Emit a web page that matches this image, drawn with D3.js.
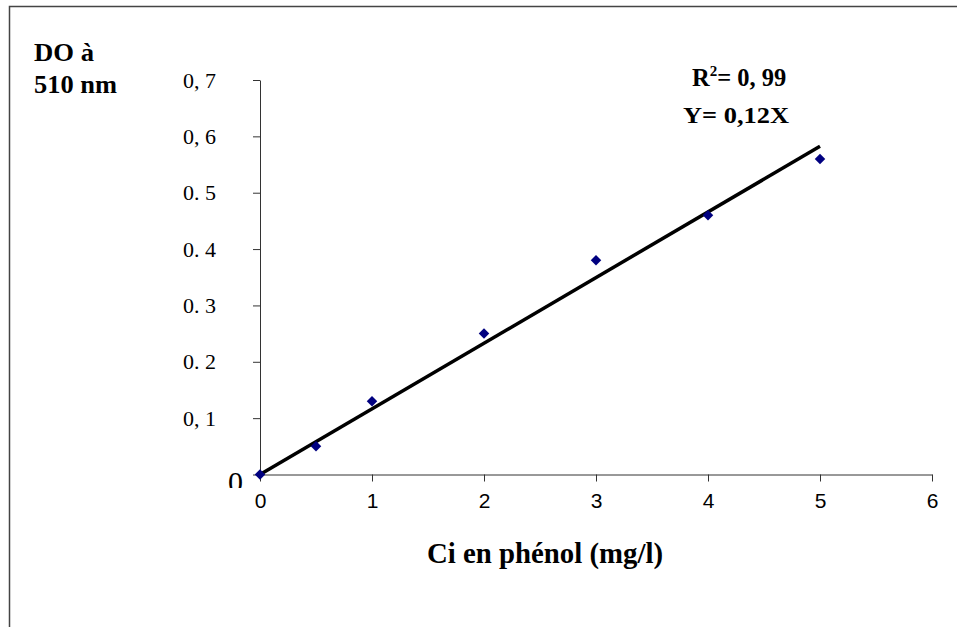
<!DOCTYPE html>
<html><head><meta charset="utf-8">
<script src="https://cdn.jsdelivr.net/npm/d3@7"></script>
<style>html,body{margin:0;padding:0;background:#fff;overflow:hidden}</style>
</head><body>
<svg id="c" width="957" height="627"></svg>
<script>
// ---- data ----
const concentrations = [0, 0.5, 1, 2, 3, 4, 5];
const absorbance = [0, 0.05, 0.13, 0.25, 0.38, 0.46, 0.56];
const xTicks = [0, 1, 2, 3, 4, 5, 6];
const yTicks = [0, 0.1, 0.2, 0.3, 0.4, 0.5, 0.6, 0.7];
const yTickLabels = ["0", "0, 1", "0. 2", "0. 3", "0. 4", "0. 5", "0, 6", "0, 7"];
const yTitleLines = ["DO à", "510 nm"];
const xTitle = "Ci en phénol (mg/l)";
const r2Text = ["R", "2", "= 0, 99"];
const eqText = "Y= 0,12X";
const trendEnd = 5;

const svg = d3.select("#c");
const serif = "'Liberation Serif','Times New Roman',serif";
const sans = "'Liberation Sans',Arial,sans-serif";

// frame
svg.append("rect").attr("x", 9.5).attr("y", 6.5).attr("width", 1000).attr("height", 700)
  .attr("fill", "none").attr("stroke", "#444").attr("stroke-width", 1.5);

const x = d3.scaleLinear().domain([0, 6]).range([260, 932]);
const y = d3.scaleLinear().domain([0, 0.7]).range([474.5, 80]);

// x axis
const gx = svg.append("g").attr("transform", `translate(0,${y(0)})`)
  .call(d3.axisBottom(x).tickValues(xTicks).tickSize(7).tickSizeOuter(0).tickPadding(12).tickFormat(d3.format("d")));
gx.select(".domain").attr("stroke", "#333");
gx.selectAll(".tick line").attr("stroke", "#333");
gx.selectAll(".tick text").attr("font-family", sans).attr("font-size", 21).attr("fill", "#000");

// y axis
const gy = svg.append("g").attr("transform", `translate(${x(0)},0)`)
  .call(d3.axisLeft(y).tickValues(yTicks).tickSize(7).tickSizeOuter(0).tickPadding(37)
    .tickFormat((d, i) => yTickLabels[i]));
gy.select(".domain").attr("stroke", "#333");
gy.selectAll(".tick line").attr("stroke", "#333");
gy.selectAll(".tick text").attr("font-family", serif).attr("font-size", 22).attr("fill", "#000");

// clip some labels like the reference
const defs = svg.append("defs");
defs.append("clipPath").attr("id", "clip0").append("rect").attr("x", -200).attr("y", -20).attr("width", 200).attr("height", 33);
defs.append("clipPath").attr("id", "clipH").append("rect").attr("x", -200).attr("y", -20).attr("width", 200).attr("height", 27);
gy.selectAll(".tick").each(function(d) {
  const t = d3.select(this).select("text");
  if (d === 0) {
    t.attr("font-size", 30).attr("x", -17).attr("dy", "0.55em").attr("clip-path", "url(#clip0)");
  } else if (Math.abs(d - 0.5) < 1e-9 || Math.abs(d - 0.3) < 1e-9) {
    t.attr("clip-path", "url(#clipH)");
  }
});

// trend line (least squares through origin)
const sxy = d3.sum(concentrations, (c, i) => c * absorbance[i]);
const sxx = d3.sum(concentrations, c => c * c);
const slope = sxy / sxx;
svg.append("line")
  .attr("x1", x(0)).attr("y1", y(0))
  .attr("x2", x(trendEnd)).attr("y2", y(slope * trendEnd))
  .attr("stroke", "#000").attr("stroke-width", 3.5);

// points
const sym = d3.symbol().type(d3.symbolSquare).size(55);
svg.append("g").selectAll("path").data(concentrations).join("path")
  .attr("d", sym)
  .attr("transform", (d, i) => `translate(${x(d)},${y(absorbance[i])}) rotate(45)`)
  .attr("fill", "#000080");

// y title
svg.append("text").attr("x", 34).attr("y", 61).attr("font-family", serif).attr("font-weight", "bold")
  .attr("font-size", 25).attr("textLength", 60).attr("lengthAdjust", "spacingAndGlyphs").text(yTitleLines[0]);
svg.append("text").attr("x", 34).attr("y", 93).attr("font-family", serif).attr("font-weight", "bold")
  .attr("font-size", 25).attr("textLength", 83).attr("lengthAdjust", "spacingAndGlyphs").text(yTitleLines[1]);

// x title
svg.append("text").attr("x", 427).attr("y", 563).attr("font-family", serif).attr("font-weight", "bold")
  .attr("font-size", 29).attr("textLength", 236).attr("lengthAdjust", "spacingAndGlyphs").text(xTitle);

// R² and equation
const r2 = svg.append("text").attr("x", 692).attr("y", 86).attr("font-family", serif).attr("font-weight", "bold")
  .attr("font-size", 24.5);
r2.append("tspan").text(r2Text[0]);
r2.append("tspan").attr("font-size", 15).attr("dy", -10).text(r2Text[1]);
r2.append("tspan").attr("dy", 10).text(r2Text[2]);
svg.append("text").attr("x", 683).attr("y", 123).attr("font-family", serif).attr("font-weight", "bold")
  .attr("font-size", 23).attr("textLength", 106).attr("lengthAdjust", "spacingAndGlyphs").text(eqText);
</script>
</body></html>
